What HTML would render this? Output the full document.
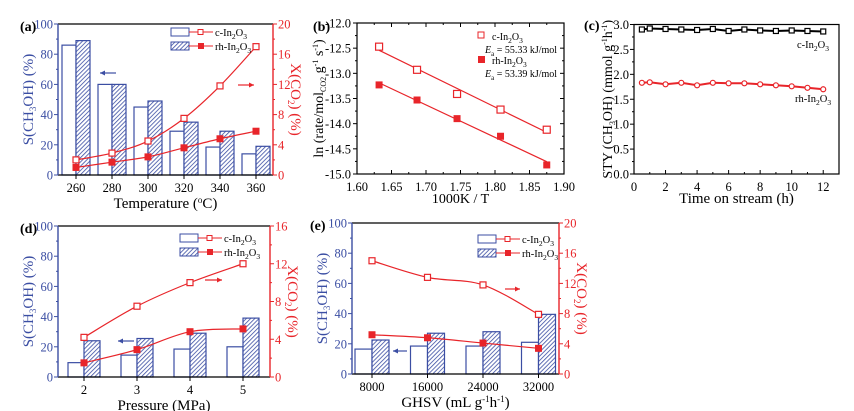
<!DOCTYPE html>
<html><head><meta charset="utf-8">
<style>
html,body{margin:0;padding:0;background:#fff;}
svg{display:block;font-family:"Liberation Serif",serif;}
</style></head>
<body>
<svg id="fig" width="854" height="411" viewBox="0 0 854 411" xmlns="http://www.w3.org/2000/svg">
<defs>
<pattern id="hatch" patternUnits="userSpaceOnUse" width="3" height="3" patternTransform="rotate(45)">
<rect width="3" height="3" fill="#fff"/>
<line x1="0" y1="0" x2="0" y2="3" stroke="#3b4ea3" stroke-width="1.6"/>
</pattern>
</defs>
</svg>
<script>
// ---- Panel (a) data ----
const aCats = [260, 280, 300, 320, 340, 360];
const aSelC = [86, 60, 45, 29, 18.5, 14];
const aSelRh = [89, 60, 49, 35, 29, 19];
const aConvC = [2.0, 2.9, 4.5, 7.5, 11.8, 17.0];
const aConvRh = [1.0, 1.7, 2.4, 3.6, 4.8, 5.8];
const aLeftTicks = [0, 20, 40, 60, 80, 100];
const aRightTicks = [0, 4, 8, 12, 16, 20];
// ---- Panel (b) data ----
const bX = [1.632, 1.687, 1.745, 1.808, 1.875];
const bC = [-12.47, -12.93, -13.41, -13.72, -14.12];
const bRh = [-13.23, -13.53, -13.90, -14.25, -14.82];
const bXTicks = [1.60, 1.65, 1.70, 1.75, 1.80, 1.85, 1.90];
const bYTicks = [-12.0, -12.5, -13.0, -13.5, -14.0, -14.5, -15.0];
// ---- Panel (c) data ----
const cT = [0.5, 1, 2, 3, 4, 5, 6, 7, 8, 9, 10, 11, 12];
const cC = [2.90, 2.92, 2.91, 2.90, 2.89, 2.91, 2.87, 2.90, 2.88, 2.87, 2.88, 2.87, 2.86];
const cRh = [1.83, 1.84, 1.80, 1.83, 1.78, 1.83, 1.82, 1.82, 1.80, 1.78, 1.76, 1.73, 1.70];
const cXTicks = [0, 2, 4, 6, 8, 10, 12];
const cYTicks = [0.0, 0.5, 1.0, 1.5, 2.0, 2.5, 3.0];
// ---- Panel (d) data ----
const dCats = [2, 3, 4, 5];
const dSelC = [9.5, 14.5, 18.5, 20];
const dSelRh = [24, 25.5, 29, 39];
const dConvC = [4.2, 7.5, 10.0, 12.0];
const dConvRh = [1.5, 2.9, 4.8, 5.1];
const dLeftTicks = [0, 20, 40, 60, 80, 100];
const dRightTicks = [0, 4, 8, 12, 16];
// ---- Panel (e) data ----
const eCats = [8000, 16000, 24000, 32000];
const eSelC = [16.5, 18.5, 18.5, 21];
const eSelRh = [22.5, 27, 28, 39.5];
const eConvC = [15.0, 12.8, 11.8, 7.9];
const eConvRh = [5.2, 4.8, 4.1, 3.4];
const eLeftTicks = [0, 20, 40, 60, 80, 100];
const eRightTicks = [0, 4, 8, 12, 16, 20];

const NS = "http://www.w3.org/2000/svg";
const svg = document.getElementById('fig');
const BLUE = '#3b4ea3', RED = '#e8252a';

function mk(parent, tag, attrs, name) {
  const el = document.createElementNS(NS, tag);
  for (const k in attrs) el.setAttribute(k, attrs[k]);
  
  
  parent.appendChild(el);
  return el;
}
function txt(parent, x, y, html, opts, name) {
  const t = mk(parent, 'text', Object.assign({x: x, y: y, 'font-size': 12.5}, opts || {}), name);
  t.innerHTML = html;
  return t;
}
const IN2O3 = (p) => p + '-In<tspan font-size="7.5" dy="3">2</tspan><tspan dy="-3">O</tspan><tspan font-size="7.5" dy="3">3</tspan>';
function lin(d0, d1, r0, r1) { return v => r0 + (v - d0) / (d1 - d0) * (r1 - r0); }
function smoothPath(pts) {
  let d = 'M' + pts[0][0] + ',' + pts[0][1];
  for (let i = 0; i < pts.length - 1; i++) {
    const p0 = pts[Math.max(0, i - 1)], p1 = pts[i], p2 = pts[i + 1], p3 = pts[Math.min(pts.length - 1, i + 2)];
    const c1 = [p1[0] + (p2[0] - p0[0]) / 6, p1[1] + (p2[1] - p0[1]) / 6];
    const c2 = [p2[0] - (p3[0] - p1[0]) / 6, p2[1] - (p3[1] - p1[1]) / 6];
    d += ' C' + c1 + ' ' + c2 + ' ' + p2;
  }
  return d;
}
function arrow(g, x1, x2, y, color, name) {
  mk(g, 'line', {x1: x1, y1: y, x2: x2, y2: y, stroke: color, 'stroke-width': 1.2}, name);
  const dir = x2 > x1 ? 1 : -1;
  mk(g, 'path', {d: `M${x2},${y} L${x2 - dir * 5},${y - 2.5} L${x2 - dir * 5},${y + 2.5} Z`, fill: color}, name + '-head');
}

function barPanel(o) {
  const g = mk(svg, 'g', {}, o.id);
  const {L, R, T, B} = o;
  const yl = lin(0, 100, B, T), yr = lin(0, o.rMax, B, T);
  const xc = i => o.x0 + i * o.dx;
  o.cats.forEach((c, i) => {
    mk(g, 'rect', {x: xc(i) - o.bw, y: yl(o.selC[i]), width: o.bw, height: B - yl(o.selC[i]), fill: '#fff', stroke: BLUE, 'stroke-width': 1.2}, 'bar-c-' + c);
    mk(g, 'rect', {x: xc(i), y: yl(o.selRh[i]), width: o.bw, height: B - yl(o.selRh[i]), fill: 'url(#hatch)', stroke: BLUE, 'stroke-width': 1.2}, 'bar-rh-' + c);
  });
  const pc = o.cats.map((c, i) => [xc(i), yr(o.convC[i])]);
  const pr = o.cats.map((c, i) => [xc(i), yr(o.convRh[i])]);
  mk(g, 'path', {d: smoothPath(pc), fill: 'none', stroke: RED, 'stroke-width': 1.2}, 'line-c-conversion');
  mk(g, 'path', {d: smoothPath(pr), fill: 'none', stroke: RED, 'stroke-width': 1.2}, 'line-rh-conversion');
  pc.forEach(p => mk(g, 'rect', {x: p[0] - 3, y: p[1] - 3, width: 6, height: 6, fill: '#fff', stroke: RED, 'stroke-width': 1.2}, 'point-c'));
  pr.forEach(p => mk(g, 'rect', {x: p[0] - 3.5, y: p[1] - 3.5, width: 7, height: 7, fill: RED}, 'point-rh'));
  mk(g, 'line', {x1: L, y1: T, x2: R, y2: T, stroke: '#000', 'stroke-width': 1.2}, 'top-border');
  mk(g, 'line', {x1: L, y1: B, x2: R, y2: B, stroke: '#000', 'stroke-width': 1.2}, 'x-axis');
  mk(g, 'line', {x1: L, y1: T, x2: L, y2: B, stroke: BLUE, 'stroke-width': 1.4}, 'left-axis');
  mk(g, 'line', {x1: R, y1: T, x2: R, y2: B, stroke: RED, 'stroke-width': 1.4}, 'right-axis');
  o.lt.forEach((v, i) => {
    mk(g, 'line', {x1: L - 4, y1: yl(v), x2: L, y2: yl(v), stroke: BLUE}, 'left-tick');
    if (i < o.lt.length - 1) mk(g, 'line', {x1: L - 2, y1: yl(v + 10), x2: L, y2: yl(v + 10), stroke: BLUE}, 'left-minor-tick');
    txt(g, L - 5, yl(v) + 4.5, v, {'text-anchor': 'end', fill: BLUE}, 'left-tick-label');
  });
  o.rt.forEach((v, i) => {
    mk(g, 'line', {x1: R, y1: yr(v), x2: R + 4, y2: yr(v), stroke: RED}, 'right-tick');
    if (i < o.rt.length - 1) mk(g, 'line', {x1: R, y1: yr(v + o.rt[1] / 2), x2: R + 2, y2: yr(v + o.rt[1] / 2), stroke: RED}, 'right-minor-tick');
    txt(g, R + 5, yr(v) + 4.5, v, {fill: RED}, 'right-tick-label');
  });
  o.cats.forEach((c, i) => {
    mk(g, 'line', {x1: xc(i), y1: B, x2: xc(i), y2: B + 4, stroke: '#000'}, 'x-tick');
    txt(g, xc(i), B + 17, c, {'text-anchor': 'middle', fill: '#000'}, 'x-tick-label');
  });
  txt(g, o.panelX, T + 7, '(' + o.letter + ')', {'font-size': 14, 'font-weight': 'bold'}, 'panel-label');
  txt(g, 0, 0, 'S(CH<tspan font-size="9" dy="3">3</tspan><tspan dy="-3">OH) (%)</tspan>', {'text-anchor': 'middle', fill: BLUE, 'font-size': 15, transform: `translate(${L - 25},${(T + B) / 2}) rotate(-90)`}, 'left-axis-title');
  txt(g, 0, 0, 'X(CO<tspan font-size="9" dy="3">2</tspan><tspan dy="-3">) (%)</tspan>', {'text-anchor': 'middle', fill: RED, 'font-size': 15, transform: `translate(${R + 18},${(T + B) / 2}) rotate(90)`}, 'right-axis-title');
  txt(g, (L + R) / 2, B + 33, o.xlabel, {'text-anchor': 'middle', 'font-size': 15}, 'x-axis-title');
  const lx = o.legX, ly = o.legY;
  mk(g, 'rect', {x: lx, y: ly, width: 18, height: 8, fill: '#fff', stroke: BLUE}, 'legend-c-swatch');
  mk(g, 'rect', {x: lx, y: ly + 14, width: 18, height: 8, fill: 'url(#hatch)', stroke: BLUE}, 'legend-rh-swatch');
  mk(g, 'line', {x1: lx + 18, y1: ly + 4, x2: lx + 42, y2: ly + 4, stroke: RED}, 'legend-c-line');
  mk(g, 'line', {x1: lx + 18, y1: ly + 18, x2: lx + 42, y2: ly + 18, stroke: RED}, 'legend-rh-line');
  mk(g, 'rect', {x: lx + 27, y: ly + 1.5, width: 5, height: 5, fill: '#fff', stroke: RED}, 'legend-c-marker');
  mk(g, 'rect', {x: lx + 27, y: ly + 15, width: 6, height: 6, fill: RED}, 'legend-rh-marker');
  txt(g, lx + 44, ly + 8, IN2O3('c'), {'font-size': 10.5}, 'legend-c-label');
  txt(g, lx + 44, ly + 22, IN2O3('rh'), {'font-size': 10.5}, 'legend-rh-label');
  arrow(g, o.ba[0], o.ba[1], o.ba[2], BLUE, 'selectivity-arrow');
  arrow(g, o.ra[0], o.ra[1], o.ra[2], RED, 'conversion-arrow');
}

barPanel({id: 'panel-a', letter: 'a', L: 58, R: 273, T: 24, B: 175, x0: 76, dx: 36, bw: 14, rMax: 20,
  cats: aCats, selC: aSelC, selRh: aSelRh, convC: aConvC, convRh: aConvRh, lt: aLeftTicks, rt: aRightTicks,
  panelX: 20, xlabel: 'Temperature (<tspan font-size="9" dy="-5">o</tspan><tspan dy="5">C)</tspan>',
  legX: 171, legY: 28, ba: [116, 100, 73], ra: [238, 254, 85]});
barPanel({id: 'panel-d', letter: 'd', L: 58, R: 270, T: 226, B: 377, x0: 84, dx: 53, bw: 16, rMax: 16,
  cats: dCats, selC: dSelC, selRh: dSelRh, convC: dConvC, convRh: dConvRh, lt: dLeftTicks, rt: dRightTicks,
  panelX: 20, xlabel: 'Pressure (MPa)',
  legX: 180, legY: 234, ba: [134, 118, 341], ra: [205, 222, 280]});
barPanel({id: 'panel-e', letter: 'e', L: 352, R: 559, T: 223, B: 374, x0: 372, dx: 55.5, bw: 17, rMax: 20,
  cats: eCats, selC: eSelC, selRh: eSelRh, convC: eConvC, convRh: eConvRh, lt: eLeftTicks, rt: eRightTicks,
  panelX: 310, xlabel: 'GHSV (mL g<tspan font-size="9" dy="-5">-1</tspan><tspan dy="5">h</tspan><tspan font-size="9" dy="-5">-1</tspan><tspan dy="5">)</tspan>',
  legX: 478, legY: 235, ba: [407, 393, 351], ra: [505, 520, 289]});

// ---- Panel (b) ----
(function () {
  const g = mk(svg, 'g', {}, 'panel-b');
  const L = 357, R = 564, T = 23, B = 174;
  const x = lin(1.60, 1.90, L, R), y = lin(-12, -15, T, B);
  mk(g, 'rect', {x: L, y: T, width: R - L, height: B - T, fill: 'none', stroke: '#000', 'stroke-width': 1.2}, 'plot-frame');
  bXTicks.forEach((v, i) => {
    mk(g, 'line', {x1: x(v), y1: B, x2: x(v), y2: B - 4, stroke: '#000'}, 'x-tick');
    mk(g, 'line', {x1: x(v), y1: T, x2: x(v), y2: T + 4, stroke: '#000'}, 'x-top-tick');
    if (i < bXTicks.length - 1) {
      mk(g, 'line', {x1: x(v + 0.025), y1: B, x2: x(v + 0.025), y2: B - 2, stroke: '#000'}, 'x-minor-tick');
      mk(g, 'line', {x1: x(v + 0.025), y1: T, x2: x(v + 0.025), y2: T + 2, stroke: '#000'}, 'x-top-minor-tick');
    }
    txt(g, x(v), B + 17, v.toFixed(2), {'text-anchor': 'middle'}, 'x-tick-label');
  });
  bYTicks.forEach((v, i) => {
    mk(g, 'line', {x1: L, y1: y(v), x2: L - 4, y2: y(v), stroke: '#000'}, 'y-tick');
    mk(g, 'line', {x1: R, y1: y(v), x2: R - 4, y2: y(v), stroke: '#000'}, 'y-right-tick');
    if (i < bYTicks.length - 1) {
      mk(g, 'line', {x1: L, y1: y(v - 0.25), x2: L - 2, y2: y(v - 0.25), stroke: '#000'}, 'y-minor-tick');
      mk(g, 'line', {x1: R, y1: y(v - 0.25), x2: R - 2, y2: y(v - 0.25), stroke: '#000'}, 'y-right-minor-tick');
    }
    txt(g, L - 6, y(v) + 4.5, v.toFixed(1), {'text-anchor': 'end'}, 'y-tick-label');
  });
  function fit(xs, ys) {
    const n = xs.length, mx = xs.reduce((a, b) => a + b) / n, my = ys.reduce((a, b) => a + b) / n;
    let sxy = 0, sxx = 0;
    xs.forEach((v, i) => { sxy += (v - mx) * (ys[i] - my); sxx += (v - mx) * (v - mx); });
    const m = sxy / sxx; return [m, my - m * mx];
  }
  [[bC, 'c'], [bRh, 'rh']].forEach(([ys, nm]) => {
    const [m, b0] = fit(bX, ys);
    const x0 = bX[0], x1 = bX[bX.length - 1];
    mk(g, 'line', {x1: x(x0), y1: y(m * x0 + b0), x2: x(x1), y2: y(m * x1 + b0), stroke: RED, 'stroke-width': 1.2}, 'fit-line-' + nm);
    bX.forEach((v, i) => {
      if (nm === 'c') mk(g, 'rect', {x: x(v) - 3.5, y: y(ys[i]) - 3.5, width: 7, height: 7, fill: '#fff', stroke: RED, 'stroke-width': 1.2}, 'point-c');
      else mk(g, 'rect', {x: x(v) - 3.5, y: y(ys[i]) - 3.5, width: 7, height: 7, fill: RED}, 'point-rh');
    });
  });
  mk(g, 'rect', {x: 478, y: 32, width: 6, height: 6, fill: '#fff', stroke: RED}, 'legend-c-marker');
  txt(g, 492, 40, IN2O3('c'), {'font-size': 10}, 'legend-c-label');
  txt(g, 485, 53, '<tspan font-style="italic">E</tspan><tspan font-size="7" dy="3">a</tspan><tspan dy="-3"> = 55.33 kJ/mol</tspan>', {'font-size': 10}, 'legend-c-ea');
  mk(g, 'rect', {x: 478, y: 56, width: 7, height: 7, fill: RED}, 'legend-rh-marker');
  txt(g, 492, 64, IN2O3('rh'), {'font-size': 10}, 'legend-rh-label');
  txt(g, 485, 77, '<tspan font-style="italic">E</tspan><tspan font-size="7" dy="3">a</tspan><tspan dy="-3"> = 53.39 kJ/mol</tspan>', {'font-size': 10}, 'legend-rh-ea');
  txt(g, 313, 31, '(b)', {'font-size': 14, 'font-weight': 'bold'}, 'panel-label');
  txt(g, 0, 0, 'ln (rate/mol<tspan font-size="8" dy="3">CO2</tspan><tspan dy="-3"> g</tspan><tspan font-size="8" dy="-5">-1</tspan><tspan dy="5"> s</tspan><tspan font-size="8" dy="-5">-1</tspan><tspan dy="5">)</tspan>', {'text-anchor': 'middle', 'font-size': 14, transform: `translate(323,${(T + B) / 2}) rotate(-90)`}, 'y-axis-title');
  txt(g, (L + R) / 2, 203, '1000K / T', {'text-anchor': 'middle', 'font-size': 14}, 'x-axis-title');
})();

// ---- Panel (c) ----
(function () {
  const g = mk(svg, 'g', {}, 'panel-c');
  const L = 634, R = 839, T = 24.5, B = 174;
  const x = lin(0, 13, L, R), y = lin(0, 3, B, T);
  mk(g, 'rect', {x: L, y: T, width: R - L, height: B - T, fill: 'none', stroke: '#000', 'stroke-width': 1.2}, 'plot-frame');
  cXTicks.forEach(v => {
    mk(g, 'line', {x1: x(v), y1: B, x2: x(v), y2: B - 4, stroke: '#000'}, 'x-tick');
    mk(g, 'line', {x1: x(v + 1), y1: B, x2: x(v + 1), y2: B - 2, stroke: '#000'}, 'x-minor-tick');
    txt(g, x(v), B + 17, v, {'text-anchor': 'middle'}, 'x-tick-label');
  });
  cYTicks.forEach((v, i) => {
    mk(g, 'line', {x1: L, y1: y(v), x2: L - 4, y2: y(v), stroke: '#000'}, 'y-tick');
    if (i < cYTicks.length - 1) mk(g, 'line', {x1: L, y1: y(v + 0.25), x2: L - 2, y2: y(v + 0.25), stroke: '#000'}, 'y-minor-tick');
    txt(g, L - 5, y(v) + 4.5, v.toFixed(1), {'text-anchor': 'end'}, 'y-tick-label');
  });
  [[cC, '#000', 'c'], [cRh, RED, 'rh']].forEach(([ys, col, nm]) => {
    const pts = cT.map((t, i) => [x(t), y(ys[i])]);
    mk(g, 'path', {d: 'M' + pts.join(' L'), fill: 'none', stroke: col, 'stroke-width': 2}, 'series-line-' + nm);
    pts.forEach(p => {
      if (nm === 'c') mk(g, 'rect', {x: p[0] - 2.5, y: p[1] - 2.5, width: 5, height: 5, fill: '#fff', stroke: col, 'stroke-width': 1.2}, 'point-c');
      else mk(g, 'circle', {cx: p[0], cy: p[1], r: 2.5, fill: '#fff', stroke: col, 'stroke-width': 1.2}, 'point-rh');
    });
  });
  txt(g, 797, 48, IN2O3('c'), {'font-size': 10.5}, 'series-label-c');
  txt(g, 795, 102, IN2O3('rh'), {'font-size': 10.5}, 'series-label-rh');
  txt(g, 584, 30, '(c)', {'font-size': 14, 'font-weight': 'bold'}, 'panel-label');
  txt(g, 0, 0, 'STY (CH<tspan font-size="8" dy="3">3</tspan><tspan dy="-3">OH) (mmol g</tspan><tspan font-size="8" dy="-5">-1</tspan><tspan dy="5">h</tspan><tspan font-size="8" dy="-5">-1</tspan><tspan dy="5">)</tspan>', {'text-anchor': 'middle', 'font-size': 14, transform: `translate(612,${(T + B) / 2}) rotate(-90)`}, 'y-axis-title');
  txt(g, (L + R) / 2, 203, 'Time on stream (h)', {'text-anchor': 'middle', 'font-size': 15}, 'x-axis-title');
})();
</script>
</body></html>
